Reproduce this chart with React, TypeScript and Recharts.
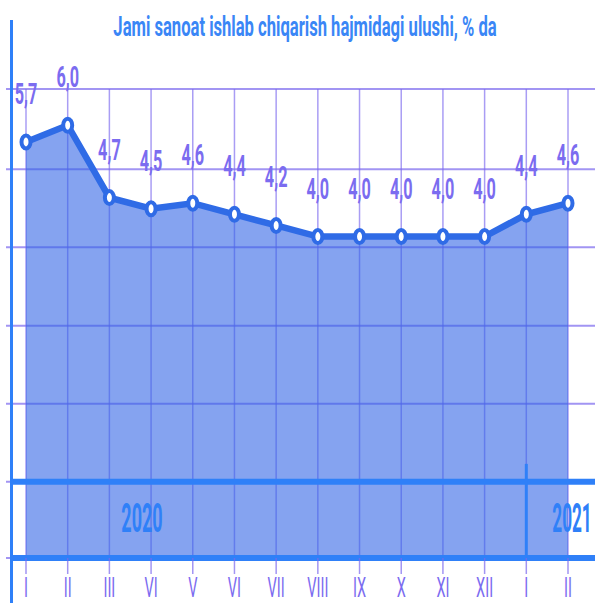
import { AreaChart, Area, XAxis, YAxis, CartesianGrid, ReferenceLine, LabelList } from "recharts"

// months as printed under the axis (the 4th reads "VI" in the source)
const months = ["I", "II", "III", "VI", "V", "VI", "VII", "VIII", "IX", "X", "XI", "XII", "I", "II"]
const years = [2020, 2020, 2020, 2020, 2020, 2020, 2020, 2020, 2020, 2020, 2020, 2020, 2021, 2021]
const shares = [5.7, 6.0, 4.7, 4.5, 4.6, 4.4, 4.2, 4.0, 4.0, 4.0, 4.0, 4.0, 4.4, 4.6]

const Y_MIN = -1.77
const Y_MAX = 6.65
const yTicks = [-1.77, -0.4, 1.0, 2.4, 3.81, 5.21, 6.65]
const SEPARATOR_TOP = -0.08

const data = months.map((m, i) => ({ key: `${years[i]}-${i}`, month: m, share: shares[i] }))

const LINE = "#2f6be6"
const BAND = "#2f80f8"
const GRID = "#7b68ee"
const LABEL = "#7b6cf0"
const FONT = "Roboto, 'Liberation Sans', sans-serif"

const hLine = (p: any) => (
  <line
    key={`h-${p.index}-${p.y1}`}
    x1={p.x1 - 20}
    x2={p.x2 + 27}
    y1={p.y1}
    y2={p.y2}
    stroke={GRID}
    strokeOpacity={0.7}
    strokeWidth={2}
  />
)

const vLine = (p: any) => (
  <line
    key={`v-${p.index}-${p.x1}`}
    x1={p.x1}
    x2={p.x2}
    y1={p.y1}
    y2={p.y2}
    stroke={GRID}
    strokeOpacity={0.65}
    strokeWidth={1.5}
  />
)

const bandLine = (p: any) => (
  <line x1={p.x1 - 15} x2={p.x2 + 27} y1={p.y1} y2={p.y2} stroke={BAND} strokeWidth={6} />
)

const MonthTick = ({ x, y, payload, index }: any) => (
  <text
    transform={`translate(${x},${y + 21}) scale(0.52,1)`}
    textAnchor="middle"
    fontSize={28}
    fontFamily={FONT}
    fill={LABEL}
  >
    {data[index]?.month ?? payload.value}
  </text>
)

const valueLabel = (p: any) => (
  <text
    key={`l-${p.index}`}
    transform={`translate(${p.x},${p.y - 38}) scale(0.56,1)`}
    textAnchor="middle"
    fontSize={29}
    fontWeight="bold"
    fontFamily={FONT}
    fill={LABEL}
  >
    {Number(p.value).toFixed(1).replace(".", ",")}
  </text>
)

const dot = (p: any) => (
  <ellipse
    key={`d-${p.index}`}
    cx={p.cx}
    cy={p.cy}
    rx={4.5}
    ry={6.5}
    fill="#fff"
    stroke={LINE}
    strokeWidth={4}
  />
)

export default function App() {
  return (
    <div style={{ position: "absolute", left: 0, top: 0, width: 595, height: 603, background: "#fff" }}>
      <AreaChart width={595} height={603} data={data} margin={{ top: 89, right: 27, left: 26, bottom: 0 }}>
        <CartesianGrid horizontal={hLine} vertical={vLine} />
        <XAxis
          dataKey="key"
          height={45}
          axisLine={false}
          tickSize={16}
          tickLine={{ stroke: GRID, strokeOpacity: 0.7, strokeWidth: 1.5 }}
          tick={<MonthTick />}
          interval={0}
        />
        <YAxis hide type="number" domain={[Y_MIN, Y_MAX]} ticks={yTicks} />
        <Area
          type="linear"
          dataKey="share"
          baseValue="dataMin"
          stroke={LINE}
          strokeWidth={6.5}
          fill="#3366e6"
          fillOpacity={0.6}
          dot={dot}
          activeDot={false}
          isAnimationActive={false}
        >
          <LabelList dataKey="share" content={valueLabel} />
        </Area>
        <ReferenceLine y={yTicks[0]} shape={bandLine} />
        <ReferenceLine y={yTicks[1]} shape={bandLine} />
        <ReferenceLine
          segment={[
            { x: data[12].key, y: SEPARATOR_TOP },
            { x: data[12].key, y: Y_MIN },
          ]}
          stroke={BAND}
          strokeWidth={3}
        />
      </AreaChart>
      <svg width={595} height={603} style={{ position: "absolute", left: 0, top: 0, pointerEvents: "none" }}>
        <line x1={11.5} x2={11.5} y1={20} y2={603} stroke={BAND} strokeWidth={3} />
        <text
          transform="translate(305,36) scale(0.615,1)"
          textAnchor="middle"
          fontSize={27}
          fontWeight="bold"
          fontFamily={FONT}
          fill="#3a86f6"
        >
          Jami sanoat ishlab chiqarish hajmidagi ulushi, % da
        </text>
        <text transform="translate(142,532) scale(0.45,1)" textAnchor="middle" fontSize={40} fontWeight="bold" fontFamily={FONT} fill={BAND}>
          2020
        </text>
        <text transform="translate(572,532) scale(0.43,1)" textAnchor="middle" fontSize={40} fontWeight="bold" fontFamily={FONT} fill={BAND}>
          2021
        </text>
      </svg>
    </div>
  )
}
